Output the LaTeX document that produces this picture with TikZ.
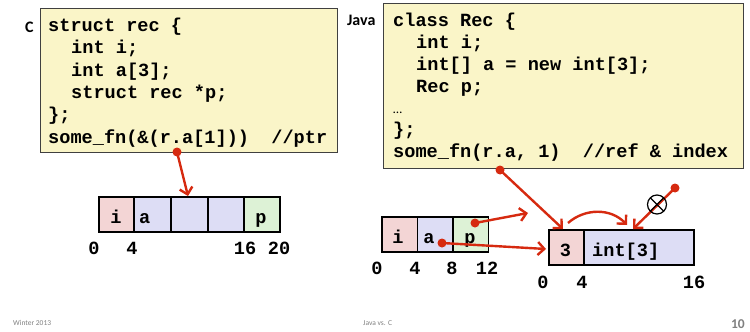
\documentclass[tikz,border=0pt]{standalone}
\usepackage{fontspec}
\setmainfont{Carlito}
\newfontfamily\codefont{Liberation Mono}
\usetikzlibrary{arrows.meta}

\definecolor{boxyellow}{RGB}{250,245,200}
\definecolor{cellpink}{RGB}{243,213,213}
\definecolor{cellblue}{RGB}{221,221,245}
\definecolor{cellgreen}{RGB}{221,242,214}
\definecolor{ptrred}{RGB}{214,42,16}
\definecolor{footgray}{RGB}{128,128,128}

\tikzset{
  codebox/.style={draw=black!75, line width=0.9pt, fill=boxyellow},
  code/.style={font=\codefont\bfseries\fontsize{18.6}{22}\selectfont, inner sep=0pt, anchor=base west},
  lang/.style={font=\bfseries\fontsize{16}{18}\selectfont, inner sep=0pt},
  cell/.style={draw=black, line width=1.6pt, minimum height=35pt, inner sep=0pt, anchor=north west},
  celltext/.style={font=\codefont\bfseries\fontsize{18.6}{22}\selectfont, inner sep=0pt},
  offs/.style={font=\codefont\bfseries\fontsize{18.6}{22}\selectfont, inner sep=0pt},
  ptr/.style={draw=ptrred, line width=2.4pt, -{Straight Barb[length=6.5pt,width=13pt]}},
  ptrdot/.style={circle, fill=ptrred, inner sep=0pt, minimum size=9pt},
  nogo/.style={circle, draw=black, line width=1.2pt, minimum size=19pt, inner sep=0pt,
               path picture={\draw[line width=1.2pt]
                 (path picture bounding box.north west) -- (path picture bounding box.south east)
                 (path picture bounding box.north east) -- (path picture bounding box.south west);}},
  foot/.style={font=\fontsize{7.5}{8}\selectfont, text=footgray, inner sep=0pt}
}

\begin{document}
\begin{tikzpicture}[x=1pt, y=-1pt]
\useasboundingbox (0,0) rectangle (750,332);

% ---------- C declaration ----------
\node[lang, anchor=base west] (clang) at (25,32) {C};
\draw[codebox] (40,8) rectangle (337,152);
\coordinate (cboxbot) at (177,152);
\node[code] (c1) at (48,31.5)  {struct rec \{};
\node[code] (c2) at (71,53.8)  {int i;};
\node[code] (c3) at (71,76)    {int a[3];};
\node[code] (c4) at (71,98.3)  {struct rec *p;};
\node[code] (c5) at (48,120.6) {\};};
\node[code] (c6) at (48,143)   {some\_fn(\&(r.a[1]))~~//ptr};

% ---------- Java declaration ----------
\node[lang, anchor=base west] (jlang) at (347,25) {Java};
\draw[codebox] (383,3) rectangle (743,168);
\node[code] (j1) at (393,27)    {class Rec \{};
\node[code] (j2) at (416,48.7)  {int i;};
\node[code] (j3) at (416,70.4)  {int[] a = new int[3];};
\node[code] (j4) at (416,92)    {Rec p;};
\node[inner sep=0pt, anchor=base west, font=\fontsize{13}{14}\selectfont] (j5) at (393,113.5) {…};
\node[code] (j6) at (393,135)   {\};};
\node[code] (j7) at (393,157)   {some\_fn(r.a, 1)~~//ref \& index};

% ---------- C struct layout ----------
\node[cell, fill=cellpink,  minimum width=35pt] (ci)  at (98,196)  {};
\node[cell, fill=cellblue,  minimum width=37pt] (ca0) at (133,196) {};
\node[cell, fill=cellblue,  minimum width=37pt] (ca1) at (170,196) {};
\node[cell, fill=cellblue,  minimum width=36pt] (ca2) at (207,196) {};
\node[cell, fill=cellgreen, minimum width=36pt] (cp)  at (243,196) {};
\node[celltext, anchor=base] (cit) at (116,223) {i};
\node[celltext, anchor=base west] (cat) at (139,223) {a};
\node[celltext, anchor=base] (cpt) at (261,223) {p};
\node[offs] (co0)  at (94,248)  {0};
\node[offs] (co4)  at (132,248) {4};
\node[offs] (co16) at (245,248) {16};
\node[offs] (co20) at (279,248) {20};

% ---------- Java object layout ----------
\node[cell, fill=cellpink,  minimum width=35.5pt] (ji) at (381,216) {};
\node[cell, fill=cellblue,  minimum width=35.5pt] (ja) at (416.5,216) {};
\node[cell, fill=cellgreen, minimum width=35.5pt] (jp) at (452,216) {};
\node[celltext, anchor=base] (jit) at (398,243) {i};
\node[celltext, anchor=base] (jat) at (429,243) {a};
\node[celltext, anchor=base] (jpt) at (470,243) {p};
\node[offs] (jo0)  at (377,268) {0};
\node[offs] (jo4)  at (415,268) {4};
\node[offs] (jo8)  at (452,268) {8};
\node[offs] (jo12) at (487,268) {12};

% ---------- Java array object ----------
\node[cell, fill=cellpink, minimum width=35pt]  (alen)  at (548,229) {};
\node[cell, fill=cellblue, minimum width=110pt] (abody) at (583,229) {};
\node[celltext, anchor=base] (alent) at (565.5,256) {3};
\node[celltext, anchor=base west] (abt) at (592,256) {int[3]};
\node[offs] (ao0)  at (543,282) {0};
\node[offs] (ao4)  at (582,282) {4};
\node[offs] (ao16) at (694,282) {16};

% ---------- pointers ----------
\node[ptrdot] (dc) at (cboxbot) {};
\coordinate (tc) at (188,196);
\draw[ptr] (dc.center) -- (tc);

\node[ptrdot] (dj) at (500,170) {};
\coordinate (tlen) at (563,229);
\draw[ptr] (dj.center) -- (tlen);

\node[ptrdot] (dp) at (475,223) {};
\coordinate (tp) at (528,213);
\draw[ptr] (dp.center) -- (tp);

\node[ptrdot] (da) at (442,243) {};
\coordinate (ta) at (546,249);
\draw[ptr] (da.center) -- (ta);

\coordinate (hs) at (568,223);
\coordinate (he) at (627,225);
\draw[ptr] (hs) .. controls (585,208) and (611,208) .. (he);

\node[ptrdot] (dx) at (675,188) {};
\coordinate (tx) at (633,229);
\draw[ptr] (dx.center) -- (tx);
\node[nogo] (forbid) at (657,204.5) {};

% ---------- footer ----------
\node[foot, anchor=base west] (f1) at (13,325) {Winter 2013};
\node[foot, anchor=base west] (f2) at (363,325) {Java vs. C};
\node[inner sep=0pt, anchor=base east, text=footgray, font=\bfseries\fontsize{13.5}{15}\selectfont] (f3) at (745,328) {10};
\end{tikzpicture}
\end{document}
